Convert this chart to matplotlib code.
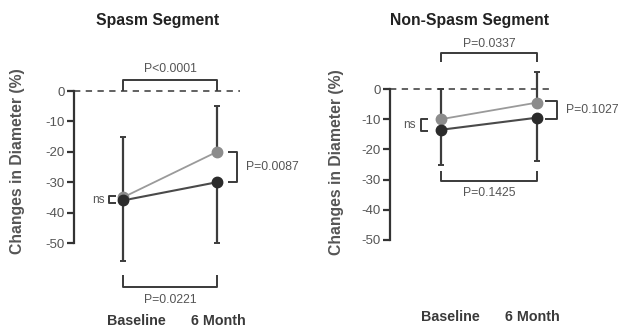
import matplotlib
matplotlib.use("Agg")
import matplotlib.pyplot as plt

plt.rcParams['font.family'] = ['Liberation Sans', 'DejaVu Sans']

# ---- data ----
timepoints = ["Baseline", "6 Month"]
yticks = [0, -10, -20, -30, -40, -50]
spasm_light = [-35, -20]
spasm_light_sd = [20, 15]
spasm_dark = [-36, -30]
spasm_dark_sd = [20, 20]
nonspasm_light = [-10, -4.5]
nonspasm_light_sd = [10, 10]
nonspasm_dark = [-13.5, -9.5]
nonspasm_dark_sd = [11.5, 14.5]
titles = ["Spasm Segment", "Non-Spasm Segment"]
p_spasm = {"time_light": "P<0.0001", "time_dark": "P=0.0221", "end": "P=0.0087", "base": "ns"}
p_nonspasm = {"time_light": "P=0.0337", "time_dark": "P=0.1425", "end": "P=0.1027", "base": "ns"}

W, H = 622, 326
fig = plt.figure(figsize=(W / 100, H / 100), dpi=100)

LIGHT = "#8c8c8c"
DARK = "#2b2b2b"
LINE_L = "#9a9a9a"
LINE_D = "#4a4a4a"
ERR = "#3c3c3c"
TXT = "#555555"

YLIM = (-75, 20)
XLIM = (-0.6, 1.6)


def make_axes(x_base, px_per_x, y_zero, px_per_y):
    left = x_base - (0 - XLIM[0]) * px_per_x
    width = (XLIM[1] - XLIM[0]) * px_per_x
    top = y_zero - YLIM[1] * px_per_y
    height = (YLIM[1] - YLIM[0]) * px_per_y
    ax = fig.add_axes([left / W, 1 - (top + height) / H, width / W, height / H])
    ax.set_xlim(*XLIM)
    ax.set_ylim(*YLIM)
    return ax


def panel(ax, light, light_sd, dark, dark_sd, pv, spine_x, dash_end, title, title_xy,
          top_br, bot_br, end_br, base_br, label_x, label_y):
    x = [0, 1]
    for s in ["top", "right", "bottom"]:
        ax.spines[s].set_visible(False)
    ax.spines["left"].set_position(("data", spine_x))
    ax.spines["left"].set_bounds(-50, 0)
    ax.spines["left"].set_linewidth(1.6)
    ax.spines["left"].set_color("#333333")
    ax.set_xticks([])
    ax.set_yticks(yticks)
    ax.set_yticklabels([str(t) for t in yticks], color=TXT, fontsize=9.5)
    ax.tick_params(axis="y", direction="out", length=5, width=1.6, color="#333333", pad=2)
    ax.patch.set_alpha(0)

    ax.plot([spine_x, dash_end], [0, 0], ls=(0, (3.5, 3)), color="#555555", lw=1.3, clip_on=False)

    zeros = [0, 0]
    ax.errorbar(x, dark, yerr=[dark_sd, zeros], fmt="none", ecolor=ERR, elinewidth=1.6,
                capsize=2.5, capthick=1.4, zorder=2, clip_on=False)
    ax.errorbar(x, light, yerr=[zeros, light_sd], fmt="none", ecolor=ERR, elinewidth=1.6,
                capsize=2.5, capthick=1.4, zorder=2, clip_on=False)
    ax.plot(x, light, color=LINE_L, lw=1.3, zorder=3)
    ax.plot(x, dark, color=LINE_D, lw=1.5, zorder=3)
    ax.plot(x, light, "o", color=LIGHT, ms=7.5, zorder=4)
    ax.plot(x, dark, "o", color=DARK, ms=7.5, zorder=5)

    kw = dict(color="#3a3a3a", lw=1.4, clip_on=False, solid_capstyle="butt")
    # top bracket (light series change)
    yt, yl, yt_txt = top_br
    ax.plot([0, 0, 1, 1], [yl, yt, yt, yl], **kw)
    ax.text(0.5, yt_txt, pv["time_light"], ha="center", va="center", fontsize=8.8, color=TXT)
    # bottom bracket (dark series change)
    yb, yl2, yb_txt = bot_br
    ax.plot([0, 0, 1, 1], [yl2, yb, yb, yl2], **kw)
    ax.text(0.5, yb_txt, pv["time_dark"], ha="center", va="center", fontsize=8.8, color=TXT)
    # end bracket
    xa, xv, ya, yb2, xt = end_br
    ax.plot([xa, xv, xv, xa], [ya, ya, yb2, yb2], **kw)
    ax.text(xt, (ya + yb2) / 2, pv["end"], ha="left", va="center", fontsize=8.8, color=TXT)
    # baseline ns bracket
    xa, xv, ya, yb2, xt = base_br
    ax.plot([xa, xv, xv, xa], [ya, ya, yb2, yb2], **kw)
    ax.text(xt, (ya + yb2) / 2, pv["base"], ha="right", va="center", fontsize=8.5, color=TXT)

    for xi, lab in zip(label_x, timepoints):
        ax.text(xi, label_y, lab, ha="center", va="center", fontsize=10.3, fontweight="bold",
                color="#3a3a3a", clip_on=False)

    fig.text(title_xy[0] / W, 1 - title_xy[1] / H, title, ha="center", va="center",
             fontsize=11.3, fontweight="bold", color="#222222")


ax1 = make_axes(123, 94, 91, 3.04)
panel(ax1, spasm_light, spasm_light_sd, spasm_dark, spasm_dark_sd, p_spasm,
      spine_x=-0.52, dash_end=1.25, title=titles[0], title_xy=(158, 20),
      top_br=(3.5, 0, 7.2), bot_br=(-64.5, -60.5, -68.8),
      end_br=(1.12, 1.21, -20, -30, 1.31),
      base_br=(-0.07, -0.15, -34.5, -37, -0.2), label_x=[0.14, 1.01], label_y=-75.5)
fig.text(18 / W, 1 - 161 / H, "Changes in Diameter (%)", rotation=90, ha="center", va="center",
         fontsize=11.3, fontweight="bold", color=TXT)

ax2 = make_axes(441, 96, 89, 3.02)
panel(ax2, nonspasm_light, nonspasm_light_sd, nonspasm_dark, nonspasm_dark_sd, p_nonspasm,
      spine_x=-0.53, dash_end=1.17, title=titles[1], title_xy=(470, 20),
      top_br=(12, 9, 15.0), bot_br=(-30.5, -27, -34.5),
      end_br=(1.08, 1.21, -4, -10, 1.3),
      base_br=(-0.14, -0.21, -10, -14, -0.26), label_x=[0.1, 0.95], label_y=-75.5)
fig.text(337 / W, 1 - 162 / H, "Changes in Diameter (%)", rotation=90, ha="center", va="center",
         fontsize=11.3, fontweight="bold", color=TXT)

fig.savefig("out.png", dpi=100)
